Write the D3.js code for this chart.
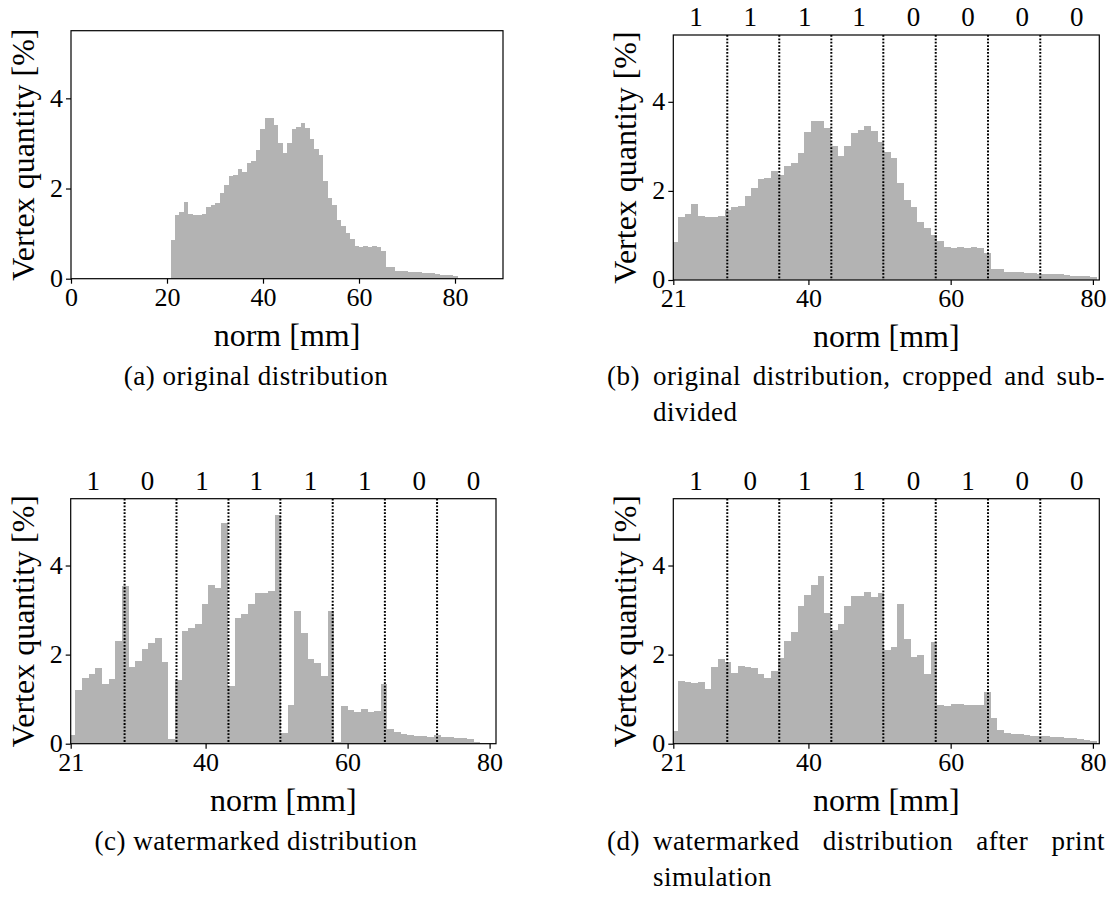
<!DOCTYPE html>
<html><head><meta charset="utf-8">
<script src="https://cdn.jsdelivr.net/npm/d3@7"></script>
<style>body{margin:0;background:#fff} svg{display:block}</style>
</head><body><svg id="c" width="1112" height="897"></svg>
<script>
// ---- data ----
const binStart = 20.73, binWidth = 0.935;
const originalValues = [0.86,1.41,1.49,1.70,1.44,1.41,1.41,1.44,1.58,1.64,1.67,1.89,2.07,2.27,2.30,2.44,
  2.36,2.57,2.62,2.86,3.33,3.57,3.57,3.41,3.01,2.79,3.01,3.31,3.37,3.46,3.35,3.10,
  2.88,2.75,2.17,1.79,1.64,1.30,1.17,1.01,0.88,0.73,0.71,0.73,0.71,0.73,0.71,0.61,
  0.25,0.25,0.17,0.17,0.17,0.15,0.15,0.14,0.13,0.13,0.13,0.11,0.09,0.09,0.09,0.07];
const watermarkedValues = [0.20,1.21,1.47,1.56,1.70,1.34,1.45,2.31,3.54,1.72,1.86,2.13,2.26,2.37,1.84,0.10,
  1.43,2.53,2.60,2.69,3.14,3.57,3.50,4.96,1.30,2.82,2.91,3.14,3.39,3.39,3.43,5.14,
  0.25,0.87,2.98,2.49,1.90,1.81,1.52,2.98,0.04,0.85,0.76,0.71,0.78,0.71,0.73,1.34,
  0.33,0.26,0.21,0.20,0.18,0.17,0.16,0.19,0.14,0.14,0.12,0.12,0.10,0.04,0.02,0.01];
const printedValues = [0.28,1.41,1.39,1.36,1.39,1.23,1.72,1.90,1.84,1.59,1.75,1.72,1.70,1.57,1.48,1.63,
  1.93,2.31,2.51,3.09,3.34,3.57,3.77,2.94,2.55,2.69,3.09,3.32,3.32,3.41,3.30,3.39,
  2.10,2.17,3.14,2.35,1.95,1.99,1.57,2.28,0.87,0.85,0.89,0.89,0.87,0.87,0.87,1.16,
  0.57,0.31,0.24,0.22,0.21,0.20,0.18,0.18,0.17,0.16,0.15,0.13,0.12,0.10,0.09,0.07];
const boundaries = [28.59, 35.90, 43.22, 50.53, 57.90, 65.25, 72.60];
const bitsOriginal = ["1","1","1","1","0","0","0","0"];
const bitsWatermarked = ["1","0","1","1","1","1","0","0"];
const bitsPrinted = ["1","0","1","1","0","1","0","0"];
const ticksFull = [0, 20, 40, 60, 80];
const ticksCrop = [21, 40, 60, 80];
const yTicks = [0, 2, 4];
const yMax = 5.5;
const domainFull = [0, 90];
const domainCrop = [21, 80.9];
const yLabel = "Vertex quantity [%]";
const xLabel = "norm [mm]";
const captionA = {label: "(a)", lines: ["original distribution"]};
const captionB = {label: "(b)", lines: ["original distribution, cropped and sub-", "divided"]};
const captionC = {label: "(c)", lines: ["watermarked distribution"]};
const captionD = {label: "(d)", lines: ["watermarked distribution after print", "simulation"]};

// ---- drawing ----
const svg = d3.select("#c");
const FONT = "'Liberation Serif','Times New Roman','DejaVu Serif',serif";
const defs = svg.append("defs");

function panel(cfg) {
  const g = svg.append("g");
  const x = d3.scaleLinear().domain(cfg.domain).range([cfg.left, cfg.right]);
  const y = d3.scaleLinear().domain([0, yMax]).range([cfg.bottom, cfg.top]);
  const cid = "clip-" + cfg.id;
  defs.append("clipPath").attr("id", cid).append("rect")
    .attr("x", cfg.left).attr("y", cfg.top)
    .attr("width", cfg.right - cfg.left).attr("height", cfg.bottom - cfg.top);
  const plot = g.append("g").attr("clip-path", `url(#${cid})`);
  plot.selectAll("rect").data(cfg.values).join("rect")
    .attr("x", (d, i) => x(binStart + i * binWidth))
    .attr("width", (d, i) => x(binStart + (i + 1) * binWidth) - x(binStart + i * binWidth))
    .attr("y", d => y(d))
    .attr("height", d => y(0) - y(d))
    .attr("fill", "#b3b3b3")
    .attr("shape-rendering", "crispEdges");
  if (cfg.bits) {
    plot.selectAll("line.sep").data(boundaries).join("line")
      .attr("class", "sep")
      .attr("x1", d => x(d)).attr("x2", d => x(d))
      .attr("y1", cfg.top).attr("y2", cfg.bottom)
      .attr("stroke", "#000").attr("stroke-width", 2)
      .attr("stroke-dasharray", "1.8,1.6");
    const w = cfg.right - cfg.left;
    g.selectAll("text.bit").data(cfg.bits).join("text")
      .attr("class", "bit")
      .attr("x", (d, i) => cfg.left + w / 2 + (i - 3.5) * w * 0.1277)
      .attr("y", cfg.top - 9)
      .attr("text-anchor", "middle")
      .style("font-family", FONT).style("font-size", "27px")
      .text(d => d);
  }
  // frame
  g.append("rect").attr("x", cfg.left).attr("y", cfg.top)
    .attr("width", cfg.right - cfg.left).attr("height", cfg.bottom - cfg.top)
    .attr("fill", "none").attr("stroke", "#000").attr("stroke-width", 1.2);
  // axes
  const xa = g.append("g").attr("transform", `translate(0,${cfg.bottom})`)
    .call(d3.axisBottom(x).tickValues(cfg.ticks).tickFormat(d3.format("d")).tickSize(5).tickPadding(4));
  const ya = g.append("g").attr("transform", `translate(${cfg.left},0)`)
    .call(d3.axisLeft(y).tickValues(yTicks).tickFormat(d3.format("d")).tickSize(5).tickPadding(3));
  [xa, ya].forEach(a => {
    a.select(".domain").remove();
    a.selectAll("line").attr("stroke", "#000").attr("stroke-width", 1.2);
    a.selectAll("text").style("font-family", FONT).style("font-size", "26px").attr("fill", "#000");
  });
  ya.selectAll("text").attr("dy", "0.30em");
  // labels
  g.append("text")
    .attr("transform", `translate(${cfg.left - 37},${(cfg.top + cfg.bottom) / 2}) rotate(-90)`)
    .attr("text-anchor", "middle")
    .style("font-family", FONT).style("font-size", "32px")
    .text(yLabel);
  g.append("text")
    .attr("x", (cfg.left + cfg.right) / 2).attr("y", cfg.bottom + 67)
    .attr("text-anchor", "middle")
    .style("font-family", FONT).style("font-size", "32px")
    .text(xLabel);
  // caption
  const cap = cfg.caption;
  const capStyle = t => t.style("font-family", FONT).style("font-size", "27px").style("letter-spacing", "0.5px");
  const yCap = cfg.bottom + cfg.capDy;
  if (cap.lines.length === 1) {
    g.append("text").attr("x", cfg.capCenter).attr("y", yCap)
      .attr("text-anchor", "middle").call(capStyle)
      .text(cap.label + " " + cap.lines[0]);
  } else {
    g.append("text").attr("x", cfg.capLeft).attr("y", yCap).call(capStyle).text(cap.label);
    const x0 = cfg.capLeft + cfg.capIndent;
    const t1 = g.append("text").attr("x", x0).attr("y", yCap).call(capStyle).text(cap.lines[0]);
    const natural = t1.node().getComputedTextLength();
    const nSpaces = (cap.lines[0].match(/ /g) || []).length;
    const target = cfg.capLeft + cfg.capWidth - x0;
    t1.style("word-spacing", Math.max(0, (target - natural) / nSpaces) + "px");
    g.append("text").attr("x", x0).attr("y", yCap + 36).call(capStyle).text(cap.lines[1]);
  }
}

panel({id: "a", left: 71, right: 503, top: 30.7, bottom: 278.7, domain: domainFull, ticks: ticksFull,
  values: originalValues, bits: null, caption: captionA, capCenter: 256, capDy: 106});
panel({id: "b", left: 673.3, right: 1099.3, top: 35, bottom: 280, domain: domainCrop, ticks: ticksCrop,
  values: originalValues, bits: bitsOriginal, caption: captionB, capLeft: 607, capWidth: 498, capIndent: 46, capDy: 105});
panel({id: "c", left: 70.7, right: 496, top: 498.7, bottom: 743.7, domain: domainCrop, ticks: ticksCrop,
  values: watermarkedValues, bits: bitsWatermarked, caption: captionC, capCenter: 256, capDy: 106});
panel({id: "d", left: 673.3, right: 1099.3, top: 498.7, bottom: 743.7, domain: domainCrop, ticks: ticksCrop,
  values: printedValues, bits: bitsPrinted, caption: captionD, capLeft: 607, capWidth: 498, capIndent: 46, capDy: 106});
</script></body></html>
